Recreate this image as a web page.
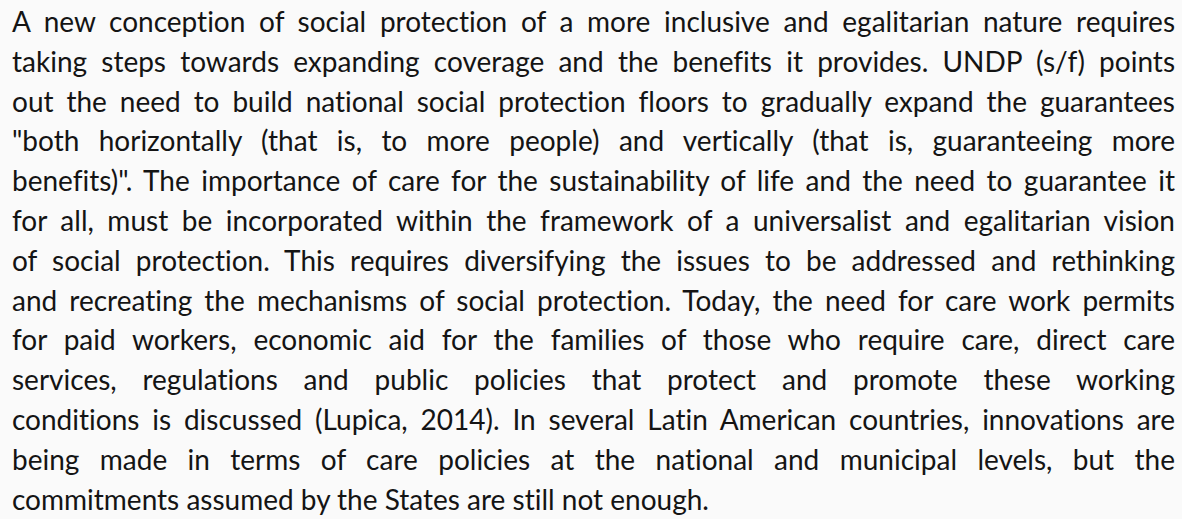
<!DOCTYPE html>
<html>
<head>
<meta charset="utf-8">
<script src="https://cdn.jsdelivr.net/npm/d3@7"></script>
<script src="https://cdn.jsdelivr.net/npm/@observablehq/plot@0.6"></script>
<style>
  html, body { margin: 0; padding: 0; background: #fafafa; }
  body { width: 1182px; height: 519px; overflow: hidden; }
  #para { position: absolute; left: 12px; top: 2px; width: 1163px;
          font-family: Lato, sans-serif; font-size: 28px; line-height: 39.8px; color: #141414;
          font-variant-ligatures: none; font-feature-settings: "liga" 0, "clig" 0; }
  .ln { text-align: justify; text-align-last: justify; white-space: nowrap; }
  .ln.last { text-align-last: left; }
</style>
</head>
<body>
<div id="para"></div>
<script>
const lines = [
  "A new conception of social protection of a more inclusive and egalitarian nature requires",
  "taking steps towards expanding coverage and the benefits it provides. UNDP (s/f) points",
  "out the need to build national social protection floors to gradually expand the guarantees",
  "\"both horizontally (that is, to more people) and vertically (that is, guaranteeing more",
  "benefits)\". The importance of care for the sustainability of life and the need to guarantee it",
  "for all, must be incorporated within the framework of a universalist and egalitarian vision",
  "of social protection. This requires diversifying the issues to be addressed and rethinking",
  "and recreating the mechanisms of social protection. Today, the need for care work permits",
  "for paid workers, economic aid for the families of those who require care, direct care",
  "services, regulations and public policies that protect and promote these working",
  "conditions is discussed (Lupica, 2014). In several Latin American countries, innovations are",
  "being made in terms of care policies at the national and municipal levels, but the",
  "commitments assumed by the States are still not enough."
];
const para = d3.select("#para");
para.selectAll("div").data(lines).join("div")
  .attr("class", (d, i) => i === lines.length - 1 ? "ln last" : "ln")
  .text(d => d);
</script>
</body>
</html>
